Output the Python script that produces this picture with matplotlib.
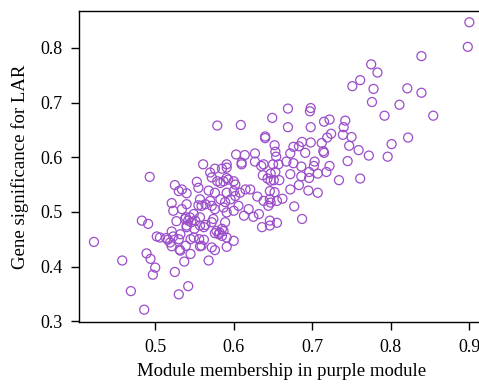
import numpy as np
import matplotlib.pyplot as plt

plt.rcParams['font.family'] = ['Liberation Serif', 'DejaVu Serif']

# module membership (x) and gene significance (y)
mm = [0.900, 0.898, 0.839, 0.775, 0.783, 0.778, 0.821, 0.839, 0.776, 0.811, 0.792, 0.854,
      0.822, 0.801, 0.772, 0.796, 0.751, 0.761,
      0.745, 0.759, 0.747, 0.750, 0.739, 0.740, 0.742,
      0.669, 0.698, 0.697, 0.669, 0.698, 0.715, 0.722, 0.724, 0.719, 0.712, 0.714, 0.715,
      0.698, 0.687, 0.683, 0.676, 0.691, 0.672, 0.652, 0.653, 0.654, 0.649, 0.667, 0.676,
      0.703, 0.702, 0.722, 0.686, 0.650,
      0.657, 0.653, 0.651, 0.658, 0.672, 0.686, 0.696, 0.696, 0.707, 0.718, 0.734, 0.761,
      0.683, 0.672, 0.695, 0.707, 0.652, 0.662, 0.655, 0.647, 0.677, 0.687, 0.655, 0.646,
      0.609, 0.579, 0.640, 0.640, 0.627, 0.603, 0.614, 0.610, 0.610, 0.627, 0.638, 0.635,
      0.637, 0.647, 0.591, 0.591, 0.585, 0.647, 0.643,
      0.591, 0.593, 0.600, 0.587, 0.602, 0.583,
      0.646, 0.591, 0.600, 0.602, 0.608, 0.615, 0.621, 0.630, 0.646, 0.638, 0.583, 0.589, 0.596,
      0.587, 0.591, 0.600, 0.606, 0.613, 0.619, 0.625, 0.632, 0.644, 0.636, 0.646, 0.589,
      0.585, 0.591, 0.600, 0.591, 0.585,
      0.561, 0.493, 0.570, 0.572, 0.576, 0.579, 0.553, 0.555, 0.525, 0.530, 0.534, 0.540,
      0.568, 0.576, 0.570, 0.557, 0.564, 0.559, 0.555, 0.572, 0.576, 0.521, 0.540, 0.523,
      0.534, 0.539, 0.544, 0.549, 0.557, 0.551, 0.542, 0.483, 0.491,
      0.422, 0.458, 0.469, 0.486, 0.489, 0.494, 0.500, 0.497, 0.525, 0.542, 0.530, 0.502,
      0.506, 0.514, 0.521, 0.523, 0.530, 0.521, 0.531, 0.532, 0.539, 0.545, 0.537, 0.516,
      0.519, 0.556, 0.559, 0.562, 0.557, 0.568, 0.576, 0.572, 0.581, 0.582, 0.587, 0.527,
      0.538, 0.546, 0.540, 0.550, 0.557, 0.564, 0.572, 0.574, 0.532, 0.540, 0.562, 0.545,
      0.549, 0.578, 0.576]
gs = [0.847, 0.802, 0.785, 0.770, 0.755, 0.725, 0.726, 0.718, 0.701, 0.696, 0.676, 0.676,
      0.636, 0.624, 0.603, 0.601, 0.730, 0.741,
      0.593, 0.613, 0.621, 0.637, 0.641, 0.655, 0.667,
      0.689, 0.690, 0.684, 0.655, 0.655, 0.665, 0.669, 0.643, 0.636, 0.626, 0.611, 0.608,
      0.627, 0.628, 0.620, 0.619, 0.608, 0.607, 0.622, 0.610, 0.601, 0.672, 0.592, 0.589,
      0.592, 0.584, 0.584, 0.583, 0.587,
      0.587, 0.573, 0.558, 0.558, 0.569, 0.565, 0.562, 0.573, 0.570, 0.573, 0.558, 0.561,
      0.549, 0.541, 0.539, 0.535, 0.536, 0.524, 0.520, 0.517, 0.510, 0.487, 0.480, 0.484,
      0.659, 0.658, 0.638, 0.635, 0.607, 0.605, 0.604, 0.590, 0.587, 0.592, 0.587, 0.584,
      0.567, 0.570, 0.587, 0.581, 0.579, 0.557, 0.561,
      0.562, 0.559, 0.556, 0.556, 0.550, 0.553,
      0.538, 0.535, 0.538, 0.529, 0.535, 0.541, 0.541, 0.528, 0.523, 0.520, 0.523, 0.518, 0.523,
      0.508, 0.499, 0.502, 0.511, 0.493, 0.505, 0.491, 0.496, 0.511, 0.472, 0.475, 0.481,
      0.469, 0.453, 0.447, 0.436, 0.456,
      0.587, 0.564, 0.572, 0.563, 0.579, 0.556, 0.555, 0.544, 0.549, 0.538, 0.541, 0.534,
      0.539, 0.535, 0.520, 0.523, 0.514, 0.511, 0.512, 0.511, 0.505, 0.516, 0.514, 0.502,
      0.505, 0.490, 0.490, 0.496, 0.490, 0.484, 0.484, 0.484, 0.478,
      0.445, 0.411, 0.355, 0.321, 0.424, 0.414, 0.398, 0.385, 0.390, 0.364, 0.349, 0.455,
      0.453, 0.452, 0.464, 0.455, 0.450, 0.437, 0.431, 0.429, 0.438, 0.423, 0.409, 0.449,
      0.444, 0.450, 0.438, 0.449, 0.437, 0.411, 0.430, 0.435, 0.459, 0.462, 0.465, 0.483,
      0.487, 0.481, 0.475, 0.469, 0.475, 0.476, 0.481, 0.487, 0.459, 0.472, 0.472, 0.450,
      0.453, 0.465, 0.461]

xticks = [0.5, 0.6, 0.7, 0.8, 0.9]
yticks = [0.3, 0.4, 0.5, 0.6, 0.7, 0.8]

fig = plt.figure(figsize=(4.79, 3.85), dpi=100)
ax = fig.add_axes([0.165, 0.163, 0.846, 0.809])
ax.scatter(mm, gs, s=42, facecolors='none', edgecolors='#9B4DCA', linewidths=0.9)

ax.set_xlim(0.403, 0.919)
ax.set_ylim(0.298, 0.868)
ax.set_xticks(xticks)
ax.set_yticks(yticks)
ax.set_xticklabels([str(v) for v in xticks])
ax.set_yticklabels([str(v) for v in yticks])
ax.tick_params(direction='out', length=6, width=1, labelsize=13, pad=6)
for s in ax.spines.values():
    s.set_linewidth(1)

ax.set_xlabel('Module membership in purple module', fontsize=13.5, labelpad=5)
ax.set_ylabel('Gene significance for LAR', fontsize=13.5, labelpad=8)

fig.savefig('out.png', dpi=100)
